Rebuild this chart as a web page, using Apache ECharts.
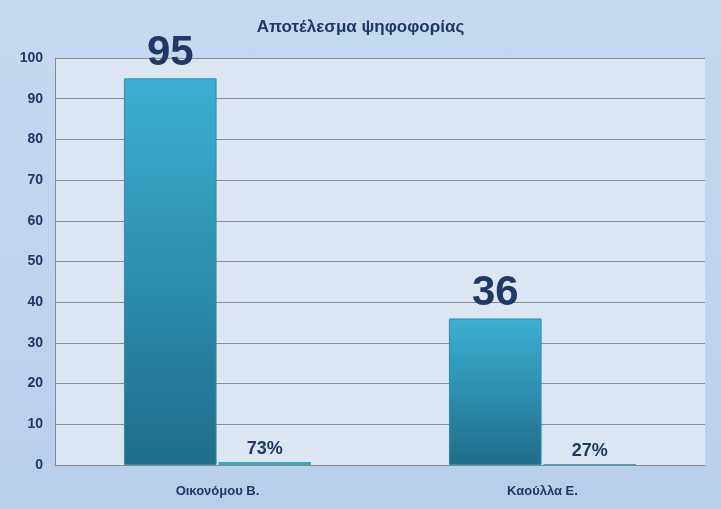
<!DOCTYPE html>
<html><head><meta charset="utf-8">
<script src="https://cdn.jsdelivr.net/npm/echarts@6/dist/echarts.min.js"></script>
<style>html,body{margin:0;padding:0;}#c{width:721px;height:509px;background:linear-gradient(#c6d9f1,#b8cfec);}</style>
</head><body><div id="c"></div>
<script>
const categories = ["Οικονόμου Β.", "Καούλλα Ε."];
const votes = [95, 36];
const shares = [0.73, 0.27];
const shareLabels = ["73%", "27%"];
const yTicks = [0,10,20,30,40,50,60,70,80,90,100];

const chart = echarts.init(document.getElementById('c'));
const navy = '#1f3864';
chart.setOption({
  title: {text: 'Αποτέλεσμα ψηφοφορίας', left: 'center', top: 14,
    textStyle: {fontFamily: 'Liberation Sans', fontSize: 17, fontWeight: 'bold', color: navy}},
  grid: {left: 55, right: 16, top: 58, bottom: 44, backgroundColor: '#dce6f2', show: true, borderWidth: 0},
  xAxis: {type: 'category', data: categories,
    axisLine: {lineStyle: {color: '#888'}}, axisTick: {show: false},
    axisLabel: {fontFamily: 'Liberation Sans', fontSize: 13, fontWeight: 'bold', color: navy, margin: 20}},
  yAxis: {type: 'value', min: 0, max: 100, interval: 10,
    axisLine: {show: true, lineStyle: {color: '#888'}},
    splitLine: {lineStyle: {color: '#8c8c8c'}},
    axisLabel: {fontFamily: 'Liberation Sans', fontSize: 14, fontWeight: 'bold', color: navy, margin: 12}},
  series: [
    {type: 'bar', data: votes, barWidth: '28.5%', barGap: '2%',
     itemStyle: {color: new echarts.graphic.LinearGradient(0,0,0,1,[{offset:0,color:'#3cb0d4'},{offset:1,color:'#1f6d89'}]),
       borderColor: '#2a8fb0', borderWidth: 1},
     label: {show: true, position: 'top', distance: 4, fontFamily: 'Liberation Sans', fontSize: 42, fontWeight: 'bold', color: navy}},
    {type: 'bar', data: shares, barWidth: '28.5%',
     itemStyle: {color: '#3aa8b8'},
     label: {show: true, position: 'top', distance: 4, fontFamily: 'Liberation Sans', fontSize: 18, fontWeight: 'bold', color: navy,
       formatter: p => shareLabels[p.dataIndex]}}
  ]
});
</script></body></html>
